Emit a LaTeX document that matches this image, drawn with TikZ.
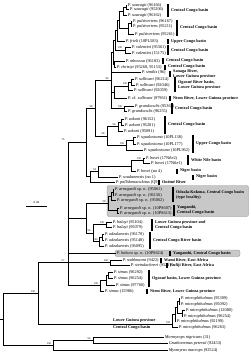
\documentclass[tikz,border=0pt]{standalone}
\usepackage{fontspec}
\setmainfont{Liberation Serif}
\definecolor{boxgrey}{RGB}{200,200,200}
\tikzset{
  br/.style={line width=0.5pt, black},
  leaf/.style={anchor=west, inner sep=0.6pt, font=\fontsize{4.3}{4.3}\selectfont},
  reg/.style={anchor=west, inner sep=0pt, align=left, font=\fontsize{4.2}{5}\selectfont\bfseries},
  bar/.style={line width=1.8pt, black},
  sup/.style={inner sep=0pt, font=\fontsize{2.8}{2.8}\selectfont},
  gbox/.style={fill=boxgrey, draw=black!45, line width=0.3pt, rounded corners=2pt},
}
\newcommand\leafat[4]{\coordinate (t#1) at (#2,#3);\node[leaf] (l#1) at (t#1) {#4};}
\newcommand\spp[2]{\textit{#1} (#2)}
\newcommand\regbar[5]{\coordinate (ba#1) at (#2,#3);\coordinate (bb#1) at (#2,#4);\draw[bar] (ba#1) -- (bb#1);\node[reg] (r#1) at ({#2+3},{(#3+#4)/2}) {#5};}
\newcommand\tbr[2]{\draw[br] (#1) |- (#2);}
\newcommand\supv[4]{\node[sup] (#1) at (#2,#3) {#4};}
\begin{document}
\begin{tikzpicture}[x=1pt,y=-1pt]
\useasboundingbox (0,0) rectangle (250,353);
% grey boxes
\draw[gbox] (107,185.5) rectangle (248.5,216.5);
\draw[gbox] (115,250) rectangle (240,256.5);
% internal nodes
\coordinate (s12) at (126,7);
\coordinate (Sau) at (123,11);
\coordinate (p12) at (131,23.5);
\coordinate (Pul) at (128,28.75);
\coordinate (SP) at (119,19.9);
\coordinate (SPF) at (117,30.4);
\coordinate (Val) at (125,50);
\coordinate (SPFV) at (115,40.2);
\coordinate (MC) at (114,64);
\coordinate (U1) at (113,52.1);
\coordinate (su2) at (131,82);
\coordinate (SU) at (128,86);
\coordinate (S) at (114,92);
\coordinate (Gr) at (124,108.5);
\coordinate (B) at (111,80.3);
\coordinate (z12) at (121,122);
\coordinate (Z) at (118,126.5);
\coordinate (q12) at (133,140.5);
\coordinate (Sq) at (126,145.25);
\coordinate (ZS) at (107,135.9);
\coordinate (TB) at (95,108.1);
\coordinate (BP) at (143,160.5);
\coordinate (N1) at (131,165.75);
\coordinate (N2) at (98,171.4);
\coordinate (N3) at (90,176.7);
\coordinate (C) at (86,142.4);
\coordinate (a12) at (113,192);
\coordinate (A1) at (111,196);
\coordinate (A2) at (117,210.5);
\coordinate (AR) at (108,203.25);
\coordinate (BA) at (106,224.5);
\coordinate (o12) at (102,237);
\coordinate (ODZ) at (99,241.5);
\coordinate (BO) at (93,233);
\coordinate (E) at (86,218.1);
\coordinate (St) at (110,262.5);
\coordinate (m12) at (108,275);
\coordinate (S2) at (106,280);
\coordinate (S3) at (100,285.5);
\coordinate (A) at (68,262.5);
\coordinate (M1) at (179,301);
\coordinate (M2) at (182,313);
\coordinate (M3) at (177,307);
\coordinate (M4) at (175,314);
\coordinate (Mroot) at (172,324);
\coordinate (Ing) at (38,293.25);
\coordinate (MG) at (93,340);
\coordinate (Out) at (53,345);
\coordinate (R) at (3,319);
\coordinate (R0) at (0,319);
% leaves
\leafat{01}{127}{5}{\spp{P. sauvagii}{96166}}
\leafat{02}{129}{9}{\spp{P. sauvagii}{95206}}
\leafat{03}{127}{15}{\spp{P. sauvagii}{96162}}
\leafat{04}{132}{21}{\spp{P. pulsivertens}{96167}}
\leafat{05}{132}{26}{\spp{P. pulsivertens}{95211}}
\leafat{06}{134}{34}{\spp{P. pulsivertens}{95261}}
\leafat{07}{125}{41}{\spp{P. frieli}{10PL583}}
\leafat{08}{131}{47}{\spp{P. valentini}{95361}}
\leafat{09}{131}{53}{\spp{P. valentini}{15175}}
\leafat{10}{125}{61}{\spp{P. mbossou}{96183}}
\leafat{11}{116}{67}{\spp{P. christyi}{95268, 95153}}
\leafat{12}{141}{72}{\spp{P. similis}{96}}
\leafat{13}{134}{79}{\spp{P. sullivani}{96214}}
\leafat{14}{135}{85}{\spp{P. sullivani}{92046}}
\leafat{15}{133}{90}{\spp{P. sullivani}{92059}}
\leafat{16}{127}{98}{\textit{P.} cf. \textit{sullivani} (97961)}
\leafat{17}{134}{106}{\spp{P. grandoculis}{95362}}
\leafat{18}{127}{111}{\spp{P. grandoculis}{96255}}
\leafat{19}{124}{119}{\spp{P. zakoni}{96152}}
\leafat{20}{124}{125}{\spp{P. zakoni}{95201}}
\leafat{21}{123}{131}{\spp{P. zakoni}{95091}}
\leafat{22}{136}{137}{\spp{P. squalostoma}{10PL138}}
\leafat{23}{136}{144}{\spp{P. squalostoma}{10PL177}}
\leafat{24}{143}{150}{\spp{P. squalostoma}{10PL962}}
\leafat{25}{145}{158}{\spp{P. bovei}{17Nile2}}
\leafat{26}{150}{163}{\spp{P. bovei}{17Nile1}}
\leafat{27}{136}{171}{\spp{P. bovei}{no 4}}
\leafat{28}{118}{177}{\spp{P. soudanensis}{no 1}}
\leafat{29}{115}{182}{\spp{P. pallidomaculatus}{Q9}}
\leafat{30}{114}{189}{\textit{P. arnegardi} sp. n. (95061)}
\leafat{31}{114}{195}{\textit{P. arnegardi} sp. n. (96156)}
\leafat{32}{116}{200}{\textit{P. arnegardi} sp. n. (95062)}
\leafat{33}{119}{208}{\textit{P. arnegardi} sp. n. (10PS607)}
\leafat{34}{119}{213}{\textit{P. arnegardi} sp. n. (10PS613)}
\leafat{35}{112}{222}{\spp{P. balayi}{95104}}
\leafat{36}{112}{227}{\spp{P. balayi}{95079}}
\leafat{37}{104}{234}{\spp{P. odzalaensis}{96170}}
\leafat{38}{104}{240}{\spp{P. odzalaensis}{95148}}
\leafat{39}{104}{246}{\spp{P. odzalaensis}{96095}}
\leafat{40}{116}{253}{\textit{P. boboto} sp. n. (10PS624)}
\leafat{41}{122}{260}{\spp{P. stuhlmanni}{9422}}
\leafat{42}{130}{265}{\spp{P. steindachneri}{9521}}
\leafat{43}{113}{272}{\spp{P. simus}{96292}}
\leafat{44}{113}{278}{\spp{P. simus}{96254}}
\leafat{45}{115}{285}{\spp{P. simus}{97760}}
\leafat{46}{104}{291}{\spp{P. simus}{15986}}
\leafat{47}{180}{298}{\spp{P. microphthalmus}{95309}}
\leafat{48}{180}{304}{\spp{P. microphthalmus}{95092}}
\leafat{49}{185}{310}{\spp{P. microphthalmus}{12080}}
\leafat{50}{183}{316}{\spp{P. microphthalmus}{96254}}
\leafat{51}{176}{321}{\spp{P. microphthalmus}{92199}}
\leafat{52}{178}{327}{\spp{P. microphthalmus}{96263}}
\leafat{53}{164}{337}{\spp{Mormyrops nigricans}{31}}
\leafat{54}{168}{343}{\spp{Gnathonemus petersii}{92453}}
\leafat{55}{168}{350}{\spp{Myomyrus macrops}{92524}}
% branches
\tbr{s12}{t01}\tbr{s12}{t02}
\tbr{Sau}{s12}\tbr{Sau}{t03}
\tbr{p12}{t04}\tbr{p12}{t05}
\tbr{Pul}{p12}\tbr{Pul}{t06}
\tbr{SP}{Sau}\tbr{SP}{Pul}
\tbr{SPF}{SP}\tbr{SPF}{t07}
\tbr{Val}{t08}\tbr{Val}{t09}
\tbr{SPFV}{SPF}\tbr{SPFV}{Val}
\tbr{MC}{t10}\tbr{MC}{t11}
\tbr{U1}{SPFV}\tbr{U1}{MC}
\tbr{su2}{t13}\tbr{su2}{t14}
\tbr{SU}{su2}\tbr{SU}{t15}
\tbr{S}{SU}\tbr{S}{t16}
\tbr{Gr}{t17}\tbr{Gr}{t18}
\tbr{B}{U1}\tbr{B}{t12}\tbr{B}{S}\tbr{B}{Gr}
\tbr{z12}{t19}\tbr{z12}{t20}
\tbr{Z}{z12}\tbr{Z}{t21}
\tbr{q12}{t22}\tbr{q12}{t23}
\tbr{Sq}{q12}\tbr{Sq}{t24}
\tbr{ZS}{Z}\tbr{ZS}{Sq}
\tbr{TB}{B}\tbr{TB}{ZS}
\tbr{BP}{t25}\tbr{BP}{t26}
\tbr{N1}{BP}\tbr{N1}{t27}
\tbr{N2}{N1}\tbr{N2}{t28}
\tbr{N3}{N2}\tbr{N3}{t29}
\tbr{C}{TB}\tbr{C}{N3}
\tbr{a12}{t30}\tbr{a12}{t31}
\tbr{A1}{a12}\tbr{A1}{t32}
\tbr{A2}{t33}\tbr{A2}{t34}
\tbr{AR}{A1}\tbr{AR}{A2}
\tbr{BA}{t35}\tbr{BA}{t36}
\tbr{o12}{t37}\tbr{o12}{t38}
\tbr{ODZ}{o12}\tbr{ODZ}{t39}
\tbr{BO}{BA}\tbr{BO}{ODZ}
\tbr{E}{AR}\tbr{E}{BO}
\tbr{St}{t41}\tbr{St}{t42}
\tbr{m12}{t43}\tbr{m12}{t44}
\tbr{S2}{m12}\tbr{S2}{t45}
\tbr{S3}{S2}\tbr{S3}{t46}
\tbr{A}{C}\tbr{A}{E}\tbr{A}{t40}\tbr{A}{St}\tbr{A}{S3}
\tbr{M1}{t47}\tbr{M1}{t48}
\tbr{M2}{t49}\tbr{M2}{t50}
\tbr{M3}{M1}\tbr{M3}{M2}
\tbr{M4}{M3}\tbr{M4}{t51}
\tbr{Mroot}{M4}\tbr{Mroot}{t52}
\tbr{Ing}{A}\tbr{Ing}{Mroot}
\tbr{MG}{t53}\tbr{MG}{t54}
\tbr{Out}{MG}\tbr{Out}{t55}
\tbr{R}{Ing}\tbr{R}{Out}
\draw[br] (R0) -- (R);
% support values
\supv{v01}{120}{48}{100}
\supv{v02}{107}{79}{96}
\supv{v03}{125}{84}{100}
\supv{v04}{120}{106.5}{100}
\supv{v05}{114}{124.5}{96}
\supv{v06}{103}{134}{98}
\supv{v07}{122}{143.5}{100}
\supv{v08}{91}{106.5}{98}
\supv{v09}{63}{139.5}{76}
\supv{v10}{139}{158.5}{100}
\supv{v11}{94.5}{170}{94}
\supv{v12}{104}{201.5}{98}
\supv{v13}{102}{222.5}{100}
\supv{v14}{95.5}{239.5}{100}
\supv{v15}{89}{231}{96}
\supv{v16}{63}{260.5}{57}
\supv{v17}{106}{260.5}{100}
\supv{v18}{96}{284}{100}
\supv{v19}{33}{291.5}{100}
\supv{v20}{168}{322.5}{100}
\supv{v21}{49}{343.5}{100}
\supv{v22}{89}{338.5}{94}
% scale bar
\coordinate (sc1) at (26,206);
\coordinate (sc2) at (47,206);
\draw[br] (sc1) -- (sc2);
\node[sup, font=\fontsize{3.2}{3.2}\selectfont] (scl) at (36.5,202.5) {0.04};
% region bars and labels
\regbar{01}{168}{4}{17}{Central Congo basin}
\regbar{02}{177}{20}{36}{Central Congo basin}
\regbar{03}{168}{39}{44}{Upper Congo basin}
\regbar{04}{168}{45.5}{55}{Central Congo basin}
\regbar{05}{163}{58.5}{63.5}{Central Congo basin}
\regbar{06}{165}{64.5}{69.5}{Central Congo basin}
\regbar{07}{170}{70.5}{76.5}{Sanaga River,\\Lower Guinea province}
\regbar{08}{175}{77}{92}{Ogooué River basin,\\Lower Guinea province}
\regbar{09}{170}{95.5}{100.5}{Ntem River, Lower Guinea province}
\regbar{10}{172}{103}{114}{Central Congo basin}
\regbar{11}{165}{116}{134}{Central Congo basin}
\regbar{12}{193}{135}{153}{Upper Congo basin}
\regbar{13}{188}{155}{165}{White Nile basin}
\regbar{14}{177}{168.5}{173.5}{Niger basin}
\regbar{15}{193}{174.5}{179.5}{Niger basin}
\regbar{16}{159}{180}{185}{Ouémé River}
\regbar{17}{173}{187}{202}{Odzala-Kokoua, Central Congo basin\\(type locality)}
\regbar{18}{174}{205}{216}{Yangambi,\\Central Congo basin}
\regbar{19}{152}{219}{231}{Lower Guinea province and\\Central Congo basin}
\regbar{20}{150}{232}{249}{Central Congo River basin}
\regbar{21}{170}{250.5}{256}{Yangambi, Central Congo basin}
\regbar{22}{161}{257.5}{262.5}{Wami River, East Africa}
\regbar{23}{167}{262.5}{267.5}{Rufiji River, East Africa}
\regbar{24}{149}{270}{287}{Ogooué basin, Lower Guinea province}
\regbar{25}{147}{288.5}{294}{Ntem River, Lower Guinea province}
\node[reg] (mlg) at (113,320.5) {Lower Guinea province};
\node[reg] (mcc) at (113,327.5) {Central Congo basin};
\end{tikzpicture}
\end{document}
